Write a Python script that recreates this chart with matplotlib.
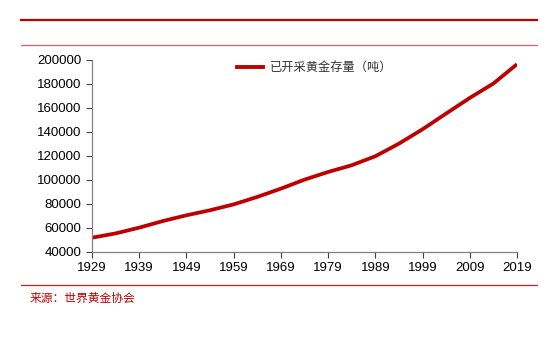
import matplotlib
matplotlib.use("Agg")
import matplotlib.pyplot as plt
from matplotlib.lines import Line2D

# world above-ground mined gold stock, tonnes
years = [1929, 1934, 1939, 1944, 1949, 1954, 1959, 1964, 1969, 1974,
         1979, 1984, 1989, 1994, 1999, 2004, 2009, 2014, 2019]
stock = [51900, 55500, 60300, 65800, 70600, 74800, 79700, 85900, 92800, 100300,
         106700, 112300, 119800, 130300, 142300, 155400, 168400, 180400, 196500]
x_ticks = list(range(1929, 2020, 10))
y_ticks = list(range(40000, 200001, 20000))
series_label = "已开采黄金存量（吨）"
source_text = "来源：世界黄金协会"

RED = "#C00000"
CJK = ["Noto Sans CJK SC", "DejaVu Sans"]

plt.rcParams["font.family"] = ["Liberation Sans", "DejaVu Sans"]

fig = plt.figure(figsize=(5.57, 3.37), dpi=100)
ax = fig.add_axes([92 / 557, 85 / 337, 425 / 557, 192 / 337])

ax.plot(years, stock, color=RED, linewidth=2.7, solid_capstyle="butt",
        solid_joinstyle="round")

ax.set_xlim(1929, 2019)
ax.set_ylim(40000, 200000)
ax.set_xticks(x_ticks)
ax.set_yticks(y_ticks)
ax.tick_params(axis="both", labelsize=9.5, colors="#404040", labelcolor="black",
               direction="out", length=4, width=0.8)
ax.tick_params(axis="x", pad=3)
for side in ["top", "right"]:
    ax.spines[side].set_visible(False)
for side in ["left", "bottom"]:
    ax.spines[side].set_color("#808080")
    ax.spines[side].set_linewidth(0.9)

# legend drawn as a short line plus label, upper middle
fig.add_artist(Line2D([237 / 557, 263 / 557], [1 - 67 / 337, 1 - 67 / 337],
                      color=RED, linewidth=2.8, transform=fig.transFigure))
fig.text(270 / 557, 1 - 67 / 337, series_label, family=CJK, fontsize=8.8,
         color="#333333", va="center", ha="left")

# report frame lines
fig.add_artist(Line2D([21 / 557, 537 / 557], [1 - 20 / 337, 1 - 20 / 337],
                      color="#C00000", linewidth=1.6, transform=fig.transFigure))
fig.add_artist(Line2D([21 / 557, 537 / 557], [1 - 45 / 337, 1 - 45 / 337],
                      color="#E06060", linewidth=0.9, transform=fig.transFigure))
fig.add_artist(Line2D([21 / 557, 537 / 557], [1 - 285 / 337, 1 - 285 / 337],
                      color="#D02020", linewidth=0.9, transform=fig.transFigure))

fig.text(30 / 557, 1 - 298 / 337, source_text, family=CJK, fontsize=8.5,
         color="#C00000", va="center", ha="left")

fig.savefig("out.png", dpi=100)
